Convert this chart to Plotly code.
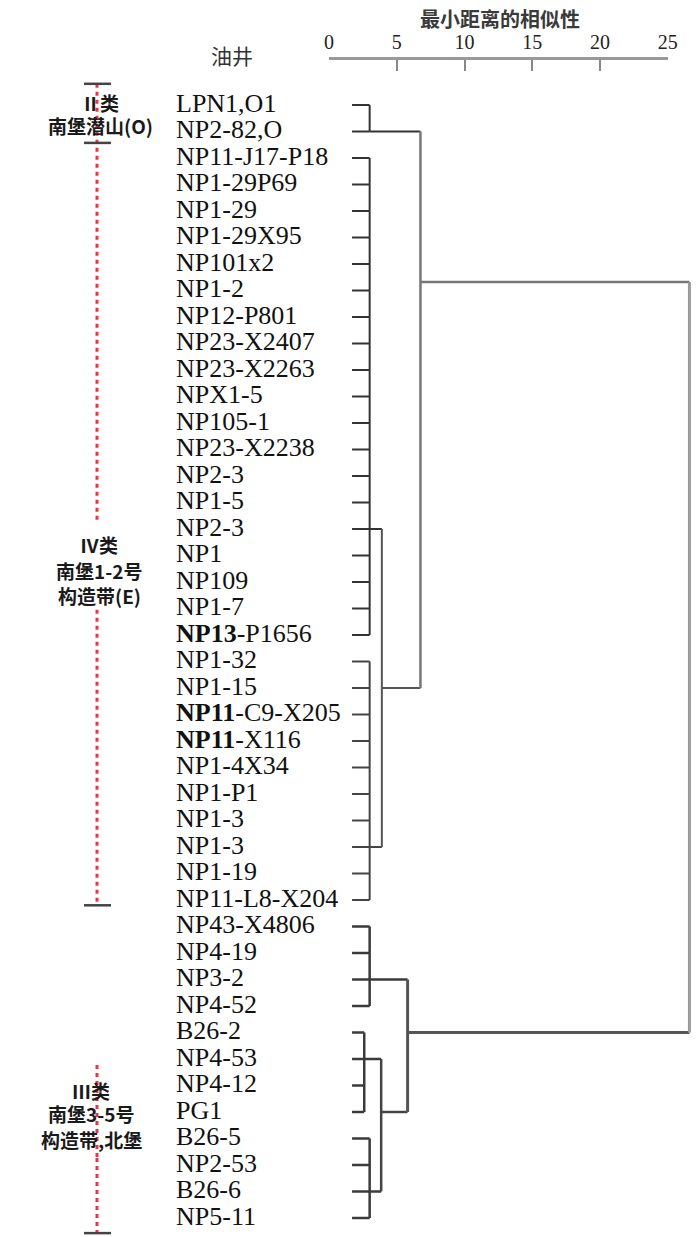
import plotly.graph_objects as go

# ---------------- data ----------------
leaf_labels = [
    "LPN1,O1", "NP2-82,O", "NP11-J17-P18", "NP1-29P69", "NP1-29", "NP1-29X95",
    "NP101x2", "NP1-2", "NP12-P801", "NP23-X2407", "NP23-X2263", "NPX1-5",
    "NP105-1", "NP23-X2238", "NP2-3", "NP1-5", "NP2-3", "NP1", "NP109", "NP1-7",
    "<b>NP13</b>-P1656", "NP1-32", "NP1-15", "<b>NP11</b>-C9-X205", "<b>NP11</b>-X116",
    "NP1-4X34", "NP1-P1", "NP1-3", "NP1-3", "NP1-19", "NP11-L8-X204",
    "NP43-X4806", "NP4-19", "NP3-2", "NP4-52", "B26-2", "NP4-53", "NP4-12", "PG1",
    "B26-5", "NP2-53", "B26-6", "NP5-11",
]
leaf_rows = list(range(1, len(leaf_labels) + 1))
leaf_tick_start = 1.7

# first-level clusters (leaf ranges)
leaf_cluster_names = ["A", "B", "C", "D", "E", "F"]
leaf_cluster_first = [1, 3, 22, 32, 36, 40]
leaf_cluster_last = [2, 21, 31, 35, 39, 43]
leaf_cluster_height = [3.0, 3.0, 3.0, 3.0, 2.6, 3.0]
leaf_cluster_exit_row = [2, 17, 29, 34, 37, 42]

# higher merges
merge_names = ["BC", "EF", "ABC", "DEF", "ROOT"]
merge_children = [("B", "C"), ("E", "F"), ("A", "BC"), ("D", "EF"), ("ABC", "DEF")]
merge_height = [3.9, 3.85, 6.75, 5.8, 26.6]
merge_exit_row = [23, 39, 7.68, 36, None]

axis_ticks = [0, 5, 10, 15, 20, 25]
axis_title = "最小距离的相似性"
label_header = "油井"

group_lines = [["Ⅱ类", "南堡潜山(O)"], ["Ⅳ类", "南堡1-2号", "构造带(E)"], ["Ⅲ类", "南堡3-5号", "构造带,北堡"]]
group_text_rows = [[0.9, 1.76], [17.6, 18.55, 19.5], [38.2, 39.05, 40.05]]
group_bounds = [0.2, 2.43, 31.2, 43.57]
red_segments = [(0.2, 16.73), (20.05, 31.2), (37.23, 40.74), (40.74, 43.57)]

# ---------------- geometry ----------------
W, H = 700, 1237
OFF = 8                          # page body margin of the browser
X0, PXU = 329.0, 13.55           # screen pixel of distance 0, pixels per unit
Y0, PXR = 105.0, 26.5            # screen pixel of row 1, pixels per row


def ux(px):
    """screen x pixel -> distance units"""
    return (px - X0) / PXU


def rowy(py):
    """screen y pixel -> row units"""
    return 1 + (py - Y0) / PXR


parent_of, height_of, exit_of = {}, {}, {}
for n, h, e in zip(leaf_cluster_names, leaf_cluster_height, leaf_cluster_exit_row):
    height_of[n] = h
    exit_of[n] = e
for n, ch, h, e in zip(merge_names, merge_children, merge_height, merge_exit_row):
    height_of[n] = h
    exit_of[n] = e
    for c in ch:
        parent_of[c] = n

style_of = {
    "A": ("#333333", 2), "B": ("#333333", 2), "C": ("#444444", 2),
    "D": ("#3a3a3a", 2.5), "E": ("#3a3a3a", 2.5), "F": ("#3a3a3a", 2.5),
    "BC": ("#555555", 2), "EF": ("#444444", 2.5), "ABC": ("#777777", 2.5),
    "DEF": ("#555555", 3), "ROOT": ("#9a9a9a", 3),
}

segs = {}


def add(node, xs, ys):
    segs.setdefault(node, ([], []))
    segs[node][0].extend(xs + [None])
    segs[node][1].extend(ys + [None])


for n, f, l, h in zip(leaf_cluster_names, leaf_cluster_first, leaf_cluster_last, leaf_cluster_height):
    for r in range(f, l + 1):
        add(n, [leaf_tick_start, h], [r, r])
    add(n, [h, h], [f, l])
    p = parent_of[n]
    add(n, [h, height_of[p]], [exit_of[n], exit_of[n]])

for n, ch, h in zip(merge_names, merge_children, merge_height):
    rows = [exit_of[c] for c in ch]
    add(n, [h, h], [min(rows), max(rows)])
    if n in parent_of:
        p = parent_of[n]
        add(n, [h, height_of[p]], [exit_of[n], exit_of[n]])

fig = go.Figure()
for n, (xs, ys) in segs.items():
    col, w = style_of[n]
    fig.add_trace(go.Scatter(x=xs, y=ys, mode="lines", line=dict(color=col, width=w),
                             hoverinfo="skip", showlegend=False))

# red dashed group line
rx = ux(97)
for a, b in red_segments:
    fig.add_trace(go.Scatter(x=[rx, rx], y=[a, b], mode="lines",
                             line=dict(color="#ee3344", width=3, dash="4px,4px"),
                             hoverinfo="skip", showlegend=False))
# caps
for gb in group_bounds:
    fig.add_trace(go.Scatter(x=[ux(84), ux(111)], y=[gb, gb], mode="lines",
                             line=dict(color="#444444", width=2.5),
                             hoverinfo="skip", showlegend=False))

# leaf labels
fig.add_trace(go.Scatter(x=[ux(176)] * len(leaf_labels), y=leaf_rows, mode="text",
                         text=leaf_labels, textposition="middle right",
                         textfont=dict(family="Liberation Serif", size=26, color="#111111"),
                         hoverinfo="skip", showlegend=False))

# group texts
for lines, rows, cx in zip(group_lines, group_text_rows, [100, 99, 91]):
    for t, r in zip(lines, rows):
        fig.add_annotation(x=ux(cx), y=r, xref="x", yref="y", text="<b>" + t + "</b>",
                           showarrow=False, xanchor="center", yanchor="middle",
                           font=dict(family="Noto Sans CJK SC", size=19, color="#1a1a1a"))


def px_paper_x(px):
    return (px - OFF) / W


def px_paper_y(py):
    return 1 - (py - OFF) / H


# header texts
fig.add_annotation(x=px_paper_x(500), y=px_paper_y(18), xref="paper", yref="paper",
                   text="<b>" + axis_title + "</b>", borderpad=0,
                   showarrow=False, xanchor="center", yanchor="middle",
                   font=dict(family="Noto Sans CJK SC", size=20, color="#3a3a3a"))
fig.add_annotation(x=px_paper_x(232), y=px_paper_y(55), xref="paper", yref="paper", text=label_header,
                   showarrow=False, xanchor="center", yanchor="middle",
                   font=dict(family="Noto Sans CJK SC", size=21, color="#333333"))

fig.update_layout(
    width=W, height=H, margin=dict(l=0, r=0, t=0, b=0, pad=0, autoexpand=False),
    paper_bgcolor="white", plot_bgcolor="white",
    xaxis=dict(range=[ux(OFF), ux(OFF + W)], visible=False, domain=[0, 1], automargin=False),
    yaxis=dict(range=[rowy(OFF + H), rowy(OFF)], visible=False, domain=[0, 1], automargin=False),
    xaxis2=dict(domain=[px_paper_x(X0), px_paper_x(X0 + 25 * PXU)], range=[0, 25], anchor="y2",
                side="top", showline=True, linecolor="#999999", linewidth=3,
                ticks="inside", ticklen=11, tickwidth=2, tickcolor="#888888",
                tickvals=axis_ticks, ticktext=[str(v) for v in axis_ticks],
                tickfont=dict(family="Liberation Serif", size=20, color="#222222"),
                showgrid=False, zeroline=False, fixedrange=True, automargin=False),
    yaxis2=dict(domain=[px_paper_y(75), px_paper_y(60)], visible=False, range=[0, 1],
                fixedrange=True, automargin=False),
)
fig.add_trace(go.Scatter(x=[None], y=[None], xaxis="x2", yaxis="y2", showlegend=False))

fig.write_html("out.html")
